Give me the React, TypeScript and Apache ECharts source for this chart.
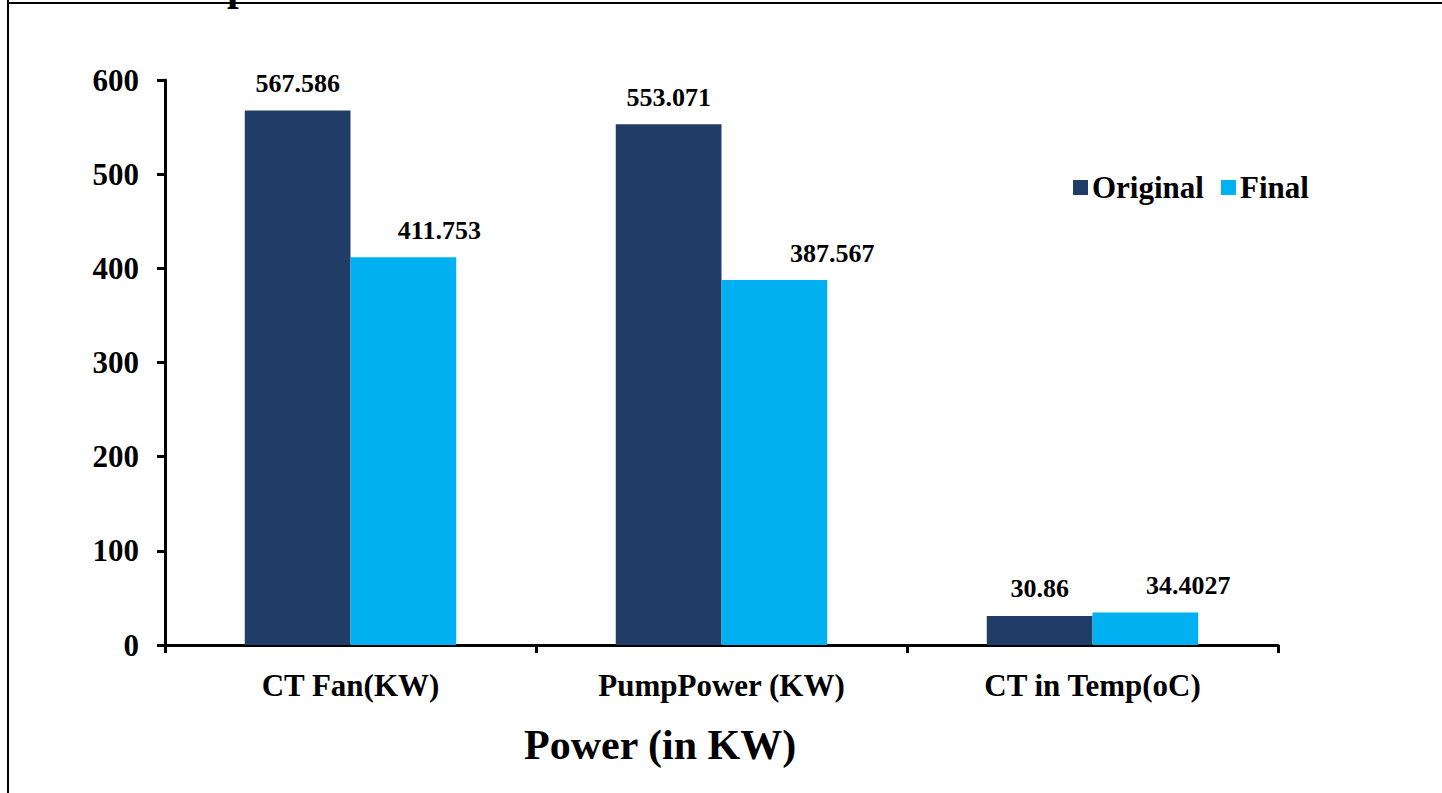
import React, { useEffect, useRef } from "react";
import * as echarts from "echarts";

const categories = ["CT Fan(KW)", "PumpPower (KW)", "CT in Temp(oC)"];
const originalValues = [567.586, 553.071, 30.86];
const finalValues = [411.753, 387.567, 34.4027];
const finalLabelOffsets = [36, 58, 43];
const yTicks = [0, 100, 200, 300, 400, 500, 600];

const FONT = "'Liberation Serif', 'Times New Roman', serif";
const DARK = "#1F3D66";
const LIGHT = "#00B0F0";

export default function App() {
  const ref = useRef<HTMLDivElement>(null);
  useEffect(() => {
    if (!ref.current) return;
    const chart = echarts.init(ref.current, undefined, { renderer: "svg" });
    const labelStyle = {
      show: true,
      position: "top",
      distance: 14,
      fontFamily: FONT,
      fontWeight: "bold",
      fontSize: 26,
      color: "#000",
    };
    chart.setOption({
      animation: false,
      backgroundColor: "#ffffff",
      grid: { left: 165, top: 80, width: 1113, height: 565, containLabel: false },
      legend: {
        left: 1068,
        top: 167,
        itemWidth: 15,
        itemHeight: 15,
        itemGap: 17,
        icon: "rect",
        textStyle: { fontFamily: FONT, fontWeight: "bold", fontSize: 31, color: "#000", padding: [0, 0, 0, -1] },
        data: ["Original", "Final"],
      },
      xAxis: {
        type: "category",
        data: categories,
        axisLine: { lineStyle: { color: "#000", width: 3 } },
        axisTick: { show: true, length: 8, lineStyle: { color: "#000", width: 3 } },
        axisLabel: { fontFamily: FONT, fontWeight: "bold", fontSize: 31, color: "#000", margin: 25 },
      },
      yAxis: {
        type: "value",
        min: yTicks[0],
        max: yTicks[yTicks.length - 1],
        interval: 100,
        splitLine: { show: false },
        axisLine: { show: true, lineStyle: { color: "#000", width: 3 } },
        axisTick: { show: true, length: 8, lineStyle: { color: "#000", width: 3 } },
        axisLabel: { fontFamily: FONT, fontWeight: "bold", fontSize: 31, color: "#000", margin: 26 },
      },
      series: [
        {
          name: "Original",
          type: "bar",
          data: originalValues,
          itemStyle: { color: DARK },
          barGap: "0%",
          barCategoryGap: "43%",
          label: labelStyle,
        },
        {
          name: "Final",
          type: "bar",
          data: finalValues.map((v, i) => ({
            value: v,
            label: { offset: [finalLabelOffsets[i], 0] },
          })),
          itemStyle: { color: LIGHT },
          barGap: "0%",
          barCategoryGap: "43%",
          label: labelStyle,
        },
      ],
      graphic: [
        { type: "line", shape: { x1: 8, y1: 0, x2: 8, y2: 793 }, style: { stroke: "#000", lineWidth: 2 } },
        { type: "line", shape: { x1: 8, y1: 3, x2: 1442, y2: 3 }, style: { stroke: "#000", lineWidth: 2 } },
        {
          type: "text",
          x: 227,
          y: -35,
          style: { text: "p", font: `bold 42px ${FONT}`, fill: "#000" },
        },
        {
          type: "text",
          left: 524,
          top: 724,
          style: { text: "Power (in KW)", font: `bold 42px ${FONT}`, fill: "#000" },
        },
      ],
    });
    return () => chart.dispose();
  }, []);
  return <div ref={ref} style={{ position: "fixed", left: 0, top: 0, width: 1442, height: 793 }} />;
}
